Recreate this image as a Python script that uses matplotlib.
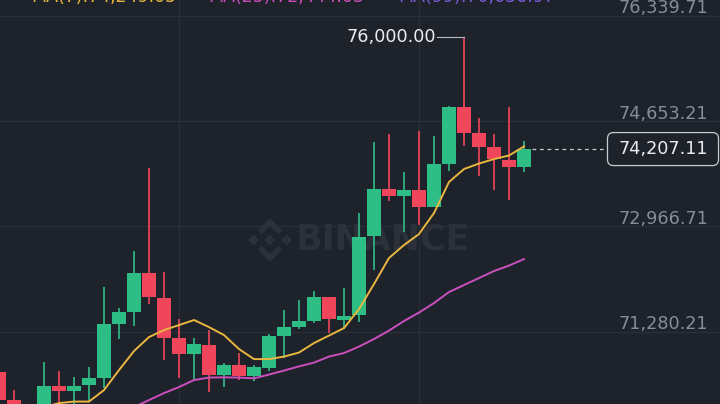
import matplotlib
matplotlib.use('Agg')
from matplotlib import pyplot as plt
from matplotlib.patches import Polygon, FancyBboxPatch
from matplotlib.transforms import Affine2D
import numpy as np

# candles, oldest first
opens = [70633, 70184, 69880, 70024, 70413, 70328, 70420, 70532, 71402, 71600,
         72220, 71824, 71183, 70922, 71071, 70585, 70745, 70569, 70692, 71210,
         71350, 71451, 71830, 71475, 71547, 72813, 73567, 73454, 73550, 73273,
         73962, 74876, 74459, 74245, 74032, 73914]
highs = [70745, 70345, 70060, 70793, 70649, 70558, 70718, 71991, 71654, 72573,
         73908, 72241, 71483, 71173, 71306, 70782, 70943, 70745, 71242, 71627,
         71787, 71931, 71830, 71975, 73187, 74320, 74443, 73834, 74501, 74416,
         74897, 76000, 74700, 74448, 74886, 74341]
lows = [70024, 69896, 69800, 69944, 70024, 70056, 70157, 70372, 71162, 71375,
        71723, 70825, 70542, 70505, 70308, 70388, 70505, 70494, 70649, 70853,
        71317, 71414, 71263, 71317, 71430, 72268, 73379, 72882, 72990, 73273,
        73860, 74256, 73780, 73551, 73390, 73844]
closes = [70184, 69992, 70010, 70413, 70328, 70413, 70532, 71398, 71600, 72215,
          71831, 71183, 70922, 71077, 70585, 70745, 70569, 70708, 71210, 71350,
          71451, 71830, 71478, 71539, 72802, 73567, 73454, 73546, 73273, 73962,
          74876, 74459, 74245, 74043, 73914, 74207.11]

ma7 = [69920, 69950, 70000, 70070, 70136, 70160, 70160, 70344, 70665, 70970,
       71194, 71306, 71386, 71467, 71354, 71226, 71002, 70841, 70841, 70881,
       70946, 71098, 71218, 71338, 71643, 72044, 72461, 72669, 72845, 73182,
       73679, 73887, 73975, 74047, 74104, 74249]
ma25 = [69600, 69640, 69680, 69720, 69760, 69800, 69850, 69920, 69990, 70072,
        70184, 70296, 70393, 70505, 70545, 70548, 70545, 70532, 70593, 70657,
        70724, 70785, 70881, 70938, 71042, 71162, 71298, 71451, 71587, 71739,
        71916, 72028, 72140, 72252, 72340, 72444]

price_ticks = [76339.71, 74653.21, 72966.71, 71280.21]
tick_labels = ['76,339.71', '74,653.21', '72,966.71', '71,280.21']
legend_items = ['MA(7):74,249.05', 'MA(25):72,444.03', 'MA(99):70,636.97']
high_label = '76,000.00'
last_label = '74,207.11'
vgrid_idx = [12, 28]

BG = '#1e222a'
GRID = '#2a2e36'
GREEN = '#2ebd85'
RED = '#f0465c'
MA_COLORS = ['#e9b640', '#cc4fbf', '#7b5ad6']
LABEL = '#878c96'
WHITE = '#eaecef'
WM = '#2c3038'

W, H = 720, 404
STEP = 15.0          # px per candle
X0 = -1.0            # px centre of first candle
PX_PER_TICK = 105.23
ppp = (price_ticks[0] - price_ticks[1]) / PX_PER_TICK   # price per pixel
TOP_GRID_PX = 16.0


def px2x(px):
    return (px - X0) / STEP


def py2p(py):
    return price_ticks[0] - (py - TOP_GRID_PX) * ppp


fig = plt.figure(figsize=(W / 100, H / 100), dpi=100, facecolor=BG)
ax = fig.add_axes([0, 0, 1, 1], facecolor=BG)
ax.set_xlim(px2x(0), px2x(W))
ax.set_ylim(py2p(H), py2p(0))
ax.axis('off')
pix = Affine2D().scale(1.0 / W, -1.0 / H).translate(0, 1) + fig.transFigure

for t in price_ticks:
    ax.axhline(t, color=GRID, lw=1.0, zorder=0)
for v in vgrid_idx:
    ax.axvline(v, color=GRID, lw=1.0, zorder=0)

# watermark
ax.text(px2x(383), py2p(240), 'BINANCE', color=WM, fontsize=25, fontweight='bold',
        ha='center', va='center', zorder=1)
cx, cy, r = 270, 240, 22
shapes = [
    [(0, 0.25), (0.25, 0), (0, -0.25), (-0.25, 0)],
    [(-0.75, 0.25), (-0.5, 0), (-0.75, -0.25), (-1.0, 0)],
    [(0.75, 0.25), (1.0, 0), (0.75, -0.25), (0.5, 0)],
    [(0, 1.0), (0.56, 0.44), (0.38, 0.26), (0, 0.64), (-0.38, 0.26), (-0.56, 0.44)],
    [(0, -1.0), (0.56, -0.44), (0.38, -0.26), (0, -0.64), (-0.38, -0.26), (-0.56, -0.44)],
]
for s in shapes:
    pts = [(cx + r * a, cy - r * b) for a, b in s]
    fig.patches.append(Polygon(pts, closed=True, facecolor=WM, edgecolor='none',
                               transform=pix, zorder=1))

# candles
idx = np.arange(len(opens))
o = np.array(opens, float)
c = np.array(closes, float)
cols = [GREEN if cc >= oo else RED for oo, cc in zip(o, c)]
ax.vlines(idx, lows, highs, colors=cols, lw=1.2, zorder=2)
body = np.maximum(np.abs(c - o), ppp)
ax.bar(idx, body, bottom=np.minimum(o, c), width=0.87, color=cols, lw=0, zorder=3)

ax.plot(idx, ma7, color=MA_COLORS[0], lw=1.4, zorder=4)
ax.plot(idx, ma25, color=MA_COLORS[1], lw=1.4, zorder=4)

# right axis labels
for t, lab in zip(price_ticks, tick_labels):
    ax.text(px2x(708), t + 2.6 * ppp, lab, color=LABEL, fontsize=12.7,
            ha='right', va='baseline', zorder=5)

# highest price marker
hi = int(np.argmax(highs))
ax.plot([px2x(437), hi], [highs[hi], highs[hi]], color='#b7bdc6', lw=0.8, zorder=5)
ax.text(px2x(436), highs[hi], high_label, color=WHITE, fontsize=12.7,
        ha='right', va='center', zorder=5)

# last price line + box
last = closes[-1]
ax.plot([idx[-1] + 0.5, px2x(607)], [last, last], color='#c7ccd3', lw=0.9,
        ls=(0, (3, 3)), zorder=5)
ly = (price_ticks[0] - last) / ppp + TOP_GRID_PX
fig.patches.append(FancyBboxPatch((607.5, ly - 16.5), 111, 33,
                                  boxstyle='round,pad=0,rounding_size=6',
                                  facecolor=BG, edgecolor='#c7ccd3', lw=0.9,
                                  transform=pix, zorder=6))
fig.text(663, ly, last_label, color=WHITE, fontsize=12.7, ha='center',
         va='center', transform=pix, zorder=7)

# legend, mostly cut off at the top edge as in the screenshot
for lab, xp, col in zip(legend_items, [31, 208, 398], MA_COLORS):
    fig.text(xp, 1.5, lab, color=col, fontsize=12.5, ha='left', va='baseline',
             transform=pix, zorder=7)

fig.savefig('out.png', dpi=100, facecolor=BG)
plt.close(fig)
